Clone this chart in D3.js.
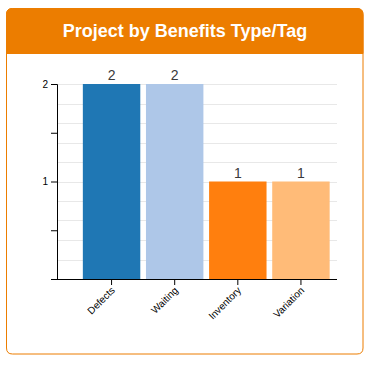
<!DOCTYPE html>
<html><head><meta charset="utf-8">
<script src="https://cdn.jsdelivr.net/npm/d3@7"></script>
<style>
html,body{margin:0;padding:0;background:#fff;}
svg{display:block;font-family:"Liberation Sans",Arial,Helvetica,sans-serif;}
</style></head>
<body>
<svg id="chart" width="381" height="365"></svg>
<script>
const title = "Project by Benefits Type/Tag";
const categories = ["Defects", "Waiting", "Inventory", "Variation"];
const values = [2, 2, 1, 1];
const colors = ["#1f77b4", "#aec7e8", "#ff7f0e", "#ffbb78"];
const majorTicks = [0, 1, 2];
const minorTicks = [0.5, 1.5];
const gridValues = [0.2, 0.4, 0.6, 0.8, 1, 1.2, 1.4, 1.6, 1.8, 2];

const svg = d3.select("#chart");
const orange = "#ec7d00";

// panel
const px = 6.5, py = 8.5, pw = 356.5, ph = 345.5, r = 6, hh = 45;
svg.append("path")
  .attr("d", `M${px},${py+r} Q${px},${py} ${px+r},${py} H${px+pw-r} Q${px+pw},${py} ${px+pw},${py+r} V${py+ph-r} Q${px+pw},${py+ph} ${px+pw-r},${py+ph} H${px+r} Q${px},${py+ph} ${px},${py+ph-r} Z`)
  .attr("fill", "#fff").attr("stroke", orange).attr("stroke-width", 1);
svg.append("path")
  .attr("d", `M${px},${py+hh} V${py+r} Q${px},${py} ${px+r},${py} H${px+pw-r} Q${px+pw},${py} ${px+pw},${py+r} V${py+hh} Z`)
  .attr("fill", orange).attr("stroke", orange).attr("stroke-width", 1);
svg.append("text").attr("x", 185).attr("y", 37)
  .attr("text-anchor", "middle").attr("fill", "#fff")
  .attr("font-size", 18).attr("font-weight", "bold")
  .text(title);

const x0 = 57, x1 = 337, yTop = 84, yBot = 279;
const x = d3.scaleBand().domain(categories).range([80, 332.5]).paddingInner(0.09).paddingOuter(0.045);
const y = d3.scaleLinear().domain([0, 2]).range([yBot, yTop]);

// gridlines
svg.append("g").selectAll("line").data(gridValues).join("line")
  .attr("x1", x0).attr("x2", x1)
  .attr("y1", d => Math.round(y(d)) + 0.5).attr("y2", d => Math.round(y(d)) + 0.5)
  .attr("stroke", "#e8e8e8").attr("stroke-width", 1);

// bars
svg.append("g").selectAll("rect").data(values).join("rect")
  .attr("x", (d, i) => x(categories[i]))
  .attr("width", x.bandwidth())
  .attr("y", d => y(d))
  .attr("height", d => y(0) - y(d))
  .attr("fill", (d, i) => colors[i]);

// value labels
svg.append("g").selectAll("text").data(values).join("text")
  .attr("x", (d, i) => x(categories[i]) + x.bandwidth() / 2)
  .attr("y", d => y(d) - 4)
  .attr("text-anchor", "middle").style("fill", "#3a3a3a").attr("font-size", 14)
  .text(d => d);

// y axis
const yAxis = d3.axisLeft(y).tickValues(majorTicks.concat(minorTicks))
  .tickSize(6).tickSizeOuter(6)
  .tickFormat(d => majorTicks.includes(d) && d !== 0 ? d3.format("d")(d) : "");
const gy = svg.append("g").attr("transform", `translate(${x0},0)`).call(yAxis);
gy.select(".domain").attr("stroke", "#000");
gy.selectAll(".tick line").attr("stroke", "#000");
gy.selectAll(".tick text").attr("font-size", 10).attr("fill", "#000").attr("font-family", "Liberation Sans, Arial, sans-serif");

// x axis
const xAxis = d3.axisBottom(x).tickSize(6).tickSizeOuter(0);
const gx = svg.append("g").attr("transform", `translate(0,${yBot})`).call(xAxis);
gx.select(".domain").attr("d", `M${x0},0.5H${x1}`).attr("stroke", "#000");
gx.selectAll(".tick line").attr("stroke", "#000");
gx.selectAll(".tick text")
  .attr("font-size", 10).attr("fill", "#000").attr("font-family", "Liberation Sans, Arial, sans-serif")
  .attr("text-anchor", "end")
  .attr("dy", null).attr("y", 0)
  .attr("transform", "translate(4,12) rotate(-45)");
</script>
</body></html>
